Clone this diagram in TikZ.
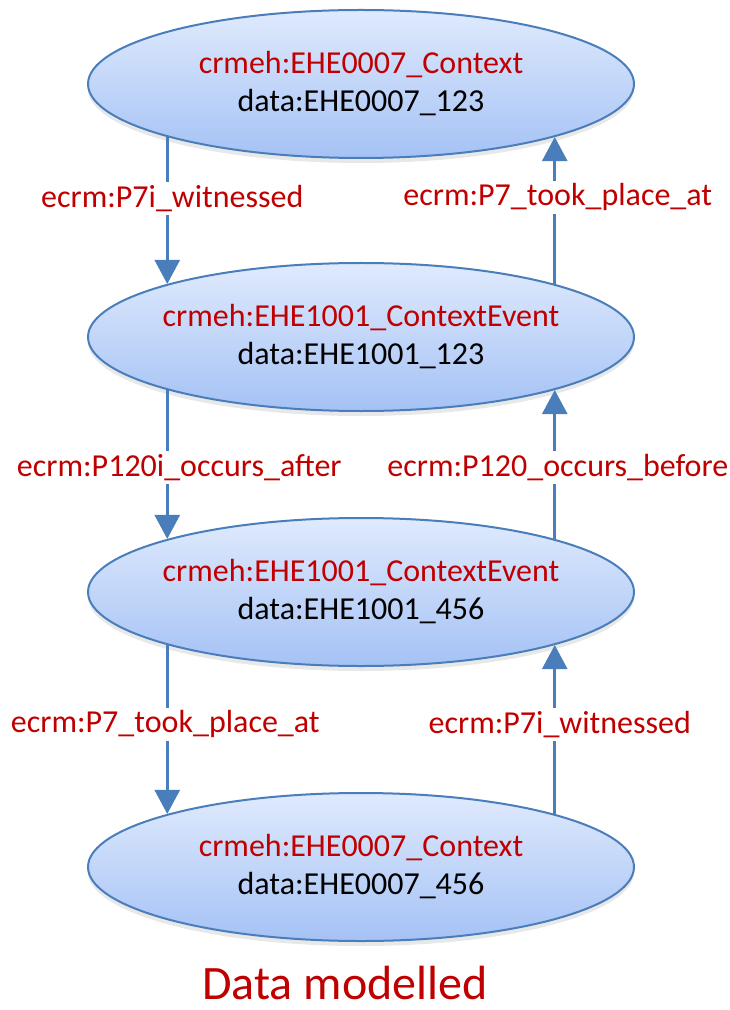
\documentclass[tikz,border=0pt]{standalone}
\usepackage{fontspec}
\setmainfont{Carlito}
\usetikzlibrary{shapes.geometric,arrows.meta,shadows}
\definecolor{ctxred}{HTML}{C00000}
\definecolor{edgeblue}{HTML}{4A7EBB}
\definecolor{topblue}{HTML}{DFEAFD}
\definecolor{botblue}{HTML}{A5C2F5}
\begin{document}
\begin{tikzpicture}[x=0.5pt,y=-0.5pt,
        class node/.style={ellipse,draw=edgeblue,line width=1pt,
          top color=topblue,bottom color=botblue,inner xsep=-8pt,
          minimum width=273pt,minimum height=74pt,align=center,
          font=\fontsize{16}{19}\selectfont,
          drop shadow={opacity=0.18,shadow xshift=0pt,shadow yshift=-2.5pt}},
        link/.style={draw=edgeblue,line width=1.3pt,-{Triangle[width=12.5pt,length=12pt]}},
        prop/.style={font=\fontsize{16}{18}\selectfont,text=ctxred,fill=white,inner xsep=0.5pt,inner ysep=1.5pt}]
  \useasboundingbox (0,0) rectangle (729,1010);
  \node[class node] (ctxA)  at (361,84)  {\textcolor{ctxred}{crmeh:EHE0007\_Context}\\data:EHE0007\_123};
  \node[class node] (evtA)  at (361,337) {\textcolor{ctxred}{crmeh:EHE1001\_ContextEvent}\\data:EHE1001\_123};
  \node[class node] (evtB)  at (361,592) {\textcolor{ctxred}{crmeh:EHE1001\_ContextEvent}\\data:EHE1001\_456};
  \node[class node] (ctxB)  at (361,867) {\textcolor{ctxred}{crmeh:EHE0007\_Context}\\data:EHE0007\_456};
  \node[font=\fontsize{24}{28}\selectfont,text=ctxred,inner sep=0pt] (title) at (345,983) {Data modelled};
  \path
    (ctxA.south west) edge[link] node[prop,pos=0.42,xshift=2.5pt] {ecrm:P7i\_witnessed} (evtA.north west)
    (evtA.north east) edge[link] node[prop,pos=0.59,xshift=1.5pt] {ecrm:P7\_took\_place\_at} (ctxA.south east)
    (evtA.south west) edge[link] node[prop,pos=0.52,xshift=6pt] {ecrm:P120i\_occurs\_after} (evtB.north west)
    (evtB.north east) edge[link] node[prop,pos=0.48,xshift=1.5pt] {ecrm:P120\_occurs\_before} (evtA.south east)
    (evtB.south west) edge[link] node[prop,pos=0.47,xshift=-1pt] {ecrm:P7\_took\_place\_at} (ctxB.north west)
    (ctxB.north east) edge[link] node[prop,pos=0.53,xshift=2.5pt] {ecrm:P7i\_witnessed} (evtB.south east);
\end{tikzpicture}
\end{document}
